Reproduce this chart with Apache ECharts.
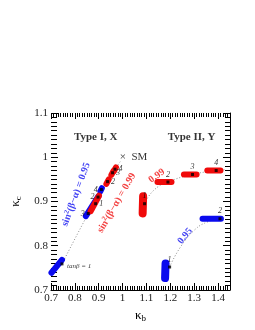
<!DOCTYPE html>
<html><head><meta charset="utf-8">
<script src="https://cdn.jsdelivr.net/npm/echarts@6/dist/echarts.min.js"></script>
<style>html,body{margin:0;padding:0;background:#fff}#c{width:255px;height:330px}</style>
</head><body><div id="c"></div>
<script>
// ---- data (kappa_b, kappa_c) ----
const xTicks = [0.7, 0.8, 0.9, 1, 1.1, 1.2, 1.3, 1.4];
const yTicks = [0.7, 0.8, 0.9, 1, 1.1];

// blob clusters: each is a short path of the scanned region
const blueBlobs = [
  [[0.702, 0.739], [0.746, 0.768]],
  [[0.846, 0.867], [0.899, 0.912]],
  [[0.907, 0.923], [0.913, 0.930]],
  [[1.178, 0.727], [1.180, 0.760]],
  [[1.335, 0.861], [1.412, 0.861]]
];
const redBlobs = [
  [[0.866, 0.878], [0.901, 0.913]],
  [[0.932, 0.940], [0.942, 0.950]],
  [[0.953, 0.960], [0.962, 0.969]],
  [[0.964, 0.969], [0.972, 0.977]],
  [[1.084, 0.873], [1.086, 0.912]],
  [[1.146, 0.944], [1.205, 0.944]],
  [[1.257, 0.961], [1.310, 0.961]],
  [[1.355, 0.970], [1.410, 0.970]]
];
const wideBlobs = [false, false, false, true, false, false, false, false, false, true, false, false, false];
const dots = [
  [0.746, 0.759], [0.856, 0.873], [0.887, 0.895], [0.897, 0.910], [0.911, 0.927],
  [0.937, 0.945], [0.958, 0.965], [0.968, 0.973],
  [1.092, 0.895], [1.190, 0.944], [1.293, 0.961], [1.392, 0.970],
  [1.197, 0.752], [1.408, 0.861]
];
const dotLabels = ['', '3', '1', '2', '4', '2', '3', '4', '1', '2', '3', '4', '1', '2'];
const dotLabelPlace = ['right', 'left', 'right', 'left', 'left', 'right', 'right', 'right',
  'top', 'top', 'top', 'top', 'top', 'top'];

const dottedTypeI = [[0.746, 0.759], [0.856, 0.873], [0.911, 0.927], [0.968, 0.973], [0.99, 0.99]];
const dottedRedII = [[1.092, 0.895], [1.13, 0.925], [1.190, 0.944], [1.293, 0.961], [1.392, 0.970], [1.43, 0.972]];
const dottedBlueII = [[1.197, 0.752], [1.24, 0.795], [1.30, 0.835], [1.36, 0.855], [1.408, 0.861]];
const smPoint = [[1.0, 1.0]];

const texts = [
  {t: '{b|Type I, X}', p: [0.887, 1.045], c: '#000', r: 0},
  {t: '{b|Type II, Y}', p: [1.289, 1.045], c: '#000', r: 0},
  {t: 'sin{s|2}(β−α) = 0.95', p: [0.805, 0.916], c: '#1010f0', r: 70},
  {t: 'sin{s|2}(β−α) = 0.99', p: [0.975, 0.897], c: '#f01010', r: 60},
  {t: '0.99', p: [1.143, 0.958], c: '#f01010', r: 35},
  {t: '0.95', p: [1.262, 0.822], c: '#1010f0', r: 50},
  {t: '{i|tan}β = {i|1}', p: [0.818, 0.753], c: '#000', r: 0}
];

const serif = 'Liberation Serif';
const series = [];
blueBlobs.forEach((b, i) => series.push({type: 'line', data: b, symbol: 'none', silent: true,
  lineStyle: {color: '#0a0aee', width: wideBlobs[i] ? 8 : 6, cap: 'round'}, z: 3}));
redBlobs.forEach((b, i) => series.push({type: 'line', data: b, symbol: 'none', silent: true,
  lineStyle: {color: '#f00a0a', width: wideBlobs[i + 5] ? 8 : 6, cap: 'round'}, z: 3}));
[dottedTypeI, dottedRedII, dottedBlueII].forEach(d => series.push({type: 'line', data: d, smooth: true,
  symbol: 'none', lineStyle: {color: '#888', width: 1, type: [1, 2]}, z: 2}));
series.push({type: 'scatter', data: dots.map((d, i) => ({value: d, label: {show: !!dotLabels[i],
  formatter: dotLabels[i], position: dotLabelPlace[i]}})), symbol: 'rect', symbolSize: 3,
  itemStyle: {color: '#000'}, z: 5,
  label: {fontFamily: serif, fontStyle: 'italic', fontSize: 8, color: '#000', distance: 2}});
series.push({type: 'scatter', data: smPoint, symbol: 'circle', symbolSize: 1, z: 5,
  itemStyle: {color: 'rgba(0,0,0,0)'},
  label: {show: true, position: 'inside', formatter: '×  SM', offset: [11, 0],
    fontFamily: serif, fontSize: 11, color: '#000'}});
const textData = texts.map(o => ({value: o.p, label: {show: true, formatter: o.t, color: o.c, rotate: o.r,
    position: 'inside', fontFamily: serif, fontWeight: 'bold', fontSize: 10,
    rich: {b: {fontFamily: serif, fontWeight: 'bold', fontSize: 11, color: '#000'},
      s: {fontFamily: serif, fontWeight: 'bold', fontSize: 7, color: o.c, verticalAlign: 'top', padding: [0, 0, 5, 0]},
      i: {fontFamily: serif, fontStyle: 'italic', fontSize: 7, color: o.c}}}}));
textData[6].label.fontSize = 7;
textData[6].label.fontWeight = 'normal';
textData[6].label.fontStyle = 'italic';
series.push({type: 'scatter', symbol: 'circle', symbolSize: 1, itemStyle: {color: 'rgba(0,0,0,0)'}, z: 6, data: textData});

const axLbl = {fontFamily: serif, fontSize: 11, color: '#222'};
const chart = echarts.init(document.getElementById('c'));
chart.setOption({
  animation: false,
  grid: {left: 51, right: 25, top: 113, bottom: 40},
  xAxis: [
    {type: 'value', min: 0.7, max: 1.45, interval: 0.1, position: 'bottom',
      axisLine: {show: true, lineStyle: {color: '#000', width: 1}},
      axisTick: {show: true, inside: true, length: 7, lineStyle: {color: '#000'}},
      minorTick: {show: true, splitNumber: 10, length: 4, lineStyle: {color: '#000'}},
      splitLine: {show: false},
      axisLabel: Object.assign({margin: 3, formatter: v => {
        const k = xTicks.find(t => Math.abs(t - v) < 1e-6); return k === undefined ? '' : String(k);
      }}, axLbl),
      name: '{k|κ}{s|b}', nameLocation: 'middle', nameGap: 16,
      nameTextStyle: {rich: {k: {fontFamily: serif, fontSize: 13, color: '#000'},
        s: {fontFamily: serif, fontSize: 9, color: '#000', verticalAlign: 'bottom', padding: [6, 0, 0, 0]}}}},
    {type: 'value', min: 0.7, max: 1.45, interval: 0.1, position: 'top',
      axisLine: {show: false}, axisLabel: {show: false}, splitLine: {show: false},
      axisTick: {show: true, inside: true, length: 6, lineStyle: {color: '#000'}},
      minorTick: {show: true, splitNumber: 10, length: 4, lineStyle: {color: '#000'}}}
  ],
  yAxis: [
    {type: 'value', min: 0.7, max: 1.1, interval: 0.1, position: 'left',
      axisLine: {show: false}, splitLine: {show: false},
      axisTick: {show: true, inside: true, length: 7, lineStyle: {color: '#000'}},
      minorTick: {show: true, splitNumber: 10, length: 6, lineStyle: {color: '#000'}},
      axisLabel: Object.assign({margin: 3, formatter: v => {
        const k = yTicks.find(t => Math.abs(t - v) < 1e-6); return k === undefined ? '' : String(k);
      }}, axLbl),
      name: '{k|κ}{s|c}', nameLocation: 'middle', nameGap: 24, nameRotate: 90,
      nameTextStyle: {rich: {k: {fontFamily: serif, fontSize: 13, color: '#000'},
        s: {fontFamily: serif, fontSize: 9, color: '#000', verticalAlign: 'bottom', padding: [6, 0, 0, 0]}}}},
    {type: 'value', min: 0.7, max: 1.1, interval: 0.1, position: 'right',
      axisLine: {show: true, lineStyle: {color: '#000'}}, axisLabel: {show: false}, splitLine: {show: false},
      axisTick: {show: true, inside: true, length: 7, lineStyle: {color: '#000'}},
      minorTick: {show: true, splitNumber: 10, length: 5, lineStyle: {color: '#000'}}}
  ],
  series: series
});
</script></body></html>
